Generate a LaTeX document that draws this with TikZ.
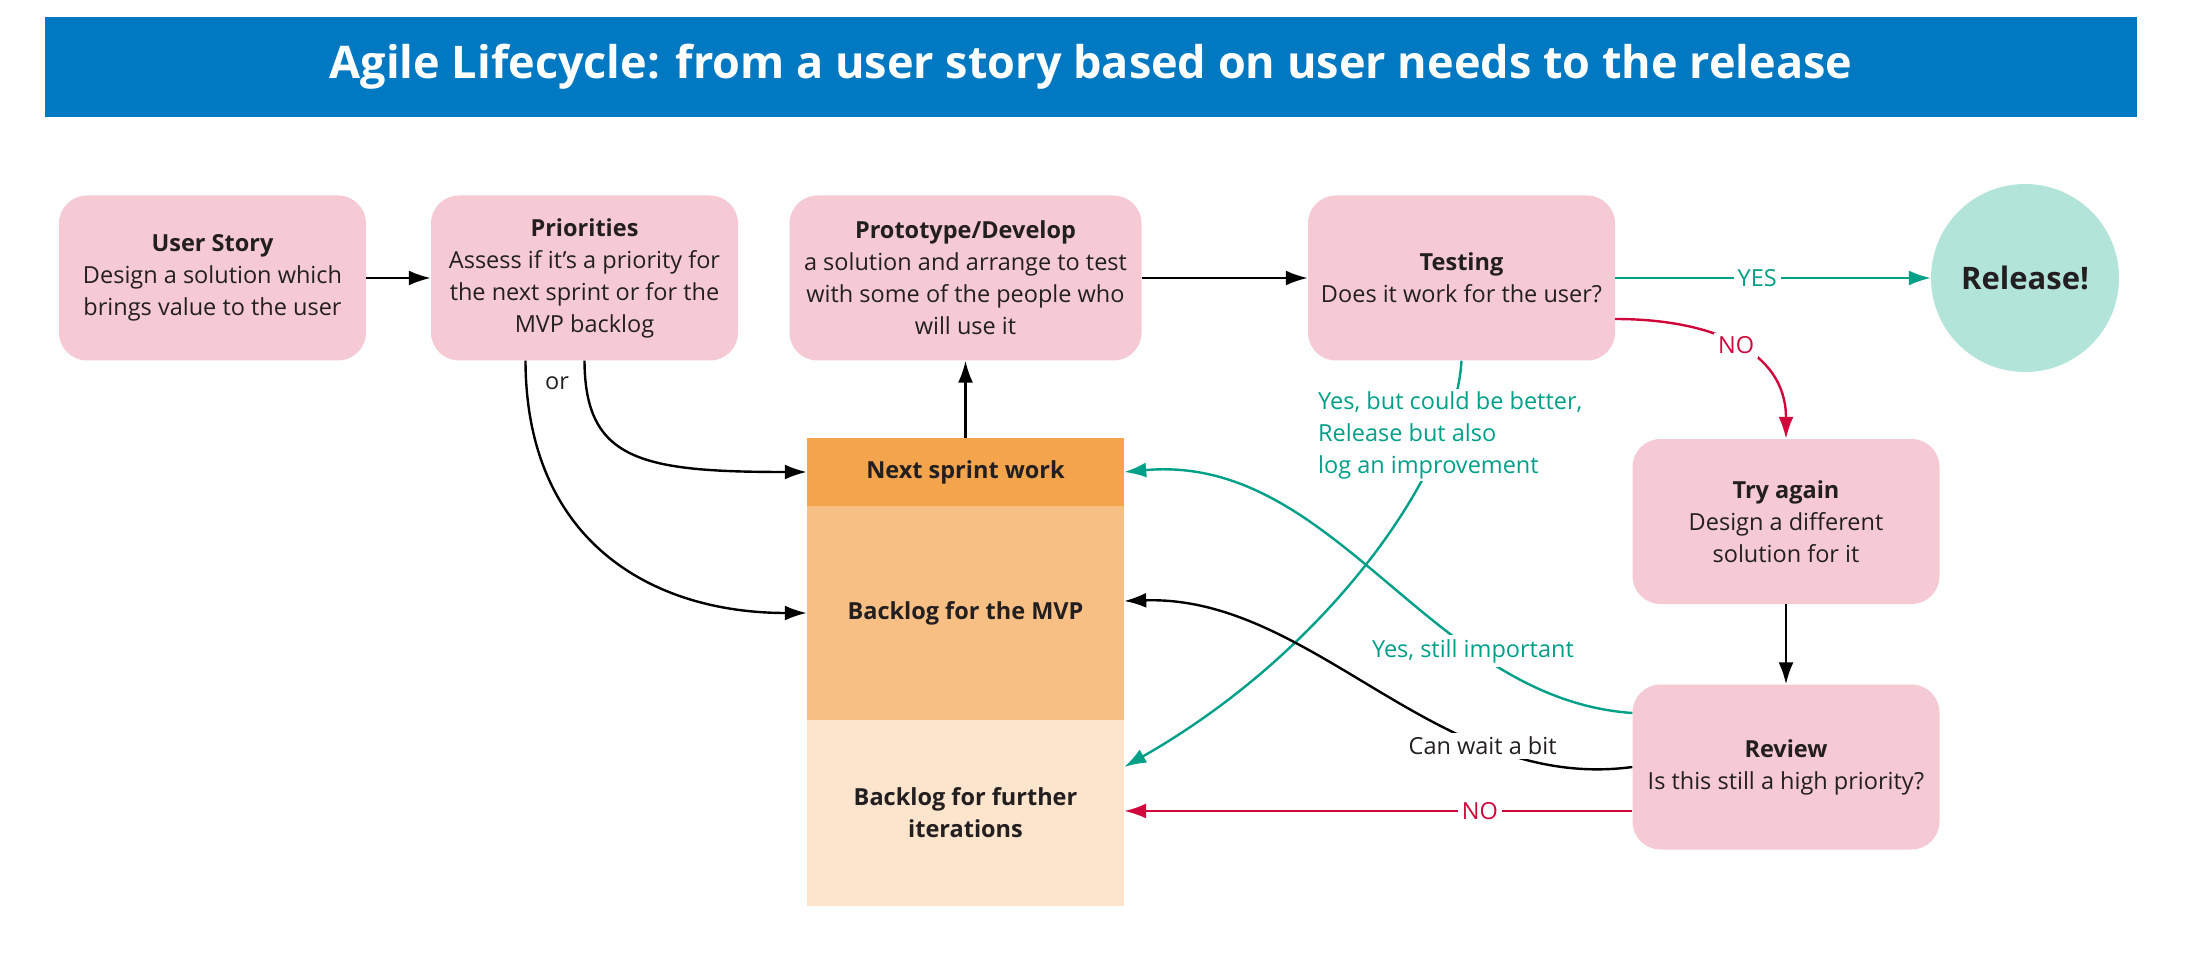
\documentclass[tikz,border=0pt]{standalone}
\usepackage{fontspec}
\setmainfont{Open Sans}
\usetikzlibrary{arrows.meta,calc}
\definecolor{pinkc}{HTML}{F5CAD4}
\definecolor{bluec}{HTML}{0079C2}
\definecolor{relc}{HTML}{B3E4DA}
\definecolor{tealc}{HTML}{00A088}
\definecolor{redc}{HTML}{D1063B}
\definecolor{orA}{HTML}{F3A44C}
\definecolor{orB}{HTML}{F7BF83}
\definecolor{orC}{HTML}{FDE4CC}
\definecolor{ink}{HTML}{231F20}
\tikzset{
  body/.style={font=\fontsize{23.5}{32}\selectfont},
  pinkbox/.style={rectangle, rounded corners=28pt, fill=pinkc, minimum width=307pt, minimum height=165pt, align=center, text=ink, body, inner sep=0pt},
  stackbox/.style={rectangle, minimum width=317pt, inner sep=0pt, align=center, text=ink, font=\fontsize{23.5}{32}\selectfont\bfseries},
  lbl/.style={fill=white, inner sep=4pt, body, text=ink},
  conn/.style={line width=2.4pt, -{Latex[length=22pt,width=15pt]}},
  arr/.style={conn, draw=black},
  tarr/.style={conn, draw=tealc},
  rarr/.style={conn, draw=redc},
}
\begin{document}
\begin{tikzpicture}[x=1pt,y=-1pt]
\useasboundingbox (0,0) rectangle (2193,965);
\fill[white] (0,0) rectangle (2193,965);
% title banner
\node[rectangle, fill=bluec, minimum width=2092pt, minimum height=100pt, inner sep=0pt, text=white, font=\fontsize{45}{52}\selectfont\bfseries] (title) at (1091,67) {Agile Lifecycle: from a user story based on user needs to the release};
% pink boxes
\node[pinkbox] (us) at (212.5,278) {{\bfseries User Story}\\Design a solution which\\brings value to the user};
\node[pinkbox] (pr) at (584.5,278) {{\bfseries Priorities}\\Assess if it's a priority for\\the next sprint or for the\\MVP backlog};
\node[pinkbox, minimum width=352pt] (proto) at (965.5,278) {{\bfseries Prototype/Develop}\\a solution and arrange to test\\with some of the people who\\will use it};
\node[pinkbox] (test) at (1461.5,278) {{\bfseries Testing}\\Does it work for the user?};
\node[circle, fill=relc, minimum size=188pt, inner sep=0pt, text=ink, font=\fontsize{31}{36}\selectfont\bfseries] (rel) at (2025,278) {Release!};
\node[pinkbox] (ta) at (1786,521.5) {{\bfseries Try again}\\Design a different\\solution for it};
\node[pinkbox] (rev) at (1786,767) {{\bfseries Review}\\Is this still a high priority?};
% stack
\node[stackbox, fill=orA, minimum height=68pt] (ns) at (965.5,472) {Next sprint work};
\node[stackbox, fill=orB, minimum height=214pt] (mvp) at (965.5,613) {Backlog for the MVP};
\node[stackbox, fill=orC, minimum height=186pt] (fu) at (965.5,813) {Backlog for further\\iterations};
% connectors
\draw[arr] (us) -- (pr);
\draw[arr] (proto) -- (test);
\draw[tarr] (test) -- node[pos=0.45, lbl, text=tealc]{YES} (rel);
\draw[rarr] ($(test.east)+(0,41)$) .. controls +(95,0) and +(0,-89) .. (ta.north) node[pos=0.5, lbl, text=redc]{NO};
\draw[arr] (ns.north) -- (ns.north |- proto.south);
\draw[arr] (pr.south) .. controls (585,460) and (640,472) .. (ns.west);
\draw[arr] ($(pr.south)+(-59,0)$) .. controls (526,540) and (650,613) .. (mvp.west);
\node[body, text=ink, inner sep=0pt] (or) at (557,383) {or};
\draw[tarr] (test.south) .. controls (1455,470) and (1330,650) .. ($(fu.east)+(0,-46)$);
\node[lbl, text=tealc, anchor=west, align=left, inner sep=2pt] (imp) at (1316,435) {Yes, but could be better,\\Release but also\\log an improvement};
\draw[tarr] ($(rev.west)+(0,-54)$) .. controls (1429,699) and (1336,453) .. (ns.east) node[pos=0.3, lbl, text=tealc]{Yes, still important};
\draw[arr] (rev.west) .. controls (1438,793) and (1314,595) .. ($(mvp.east)+(0,-12)$) node[pos=0.28, lbl]{Can wait a bit};
\draw[rarr] ($(rev.west)+(0,44)$) -- node[pos=0.3, lbl, text=redc]{NO} ($(fu.east)+(0,-2)$);
\draw[arr] (ta) -- (rev);
\end{tikzpicture}
\end{document}
